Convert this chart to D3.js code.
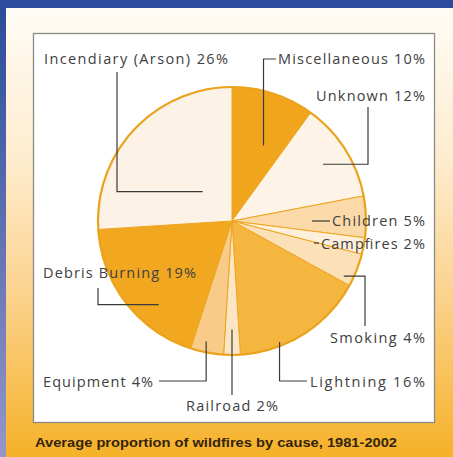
<!DOCTYPE html>
<html><head><meta charset="utf-8">
<script src="https://cdn.jsdelivr.net/npm/d3@7"></script>
<style>html,body{margin:0;padding:0;background:#fff;}svg{display:block;}</style>
</head><body>
<script>
// ---- data ----
const categories = ["Miscellaneous","Unknown","Children","Campfires","Smoking","Lightning","Railroad","Equipment","Debris Burning","Incendiary (Arson)"];
const values = [10,12,5,2,4,16,2,4,19,26];
const caption = "Average proportion of wildfires by cause, 1981-2002";

// ---- styles ----
const sliceColors = ["#f0a51d","#fdf4e7","#fbd9a8","#fdefd9","#fce0b8","#f5b640","#fce5c4","#f8cb88","#f1a71f","#fcf3e6"];

// ---- label layout (text position, anchor inside slice as fraction of slice angle t and radius rf, elbow path) ----
const labelLayout = [
  {x:278, y:64,  w:147, anchor:"start", t:0.63, rf:0.61, path:[{y:59},{x:276}]},
  {x:316, y:101, w:109, anchor:"start", t:0.51, rf:0.80, path:[{x:368},{y:107}]},
  {x:332, y:226, w:93,  anchor:"start", dash:[312,330,221]},
  {x:321, y:249, w:104, anchor:"start", dash:[314,319,243]},
  {x:330, y:343, w:95,  anchor:"start", t:0.82, rf:0.93, path:[{x:365},{y:326}]},
  {x:310, y:387, w:115, anchor:"start", t:0.69, rf:0.97, path:[{y:381},{x:307}]},
  {x:232, y:411, w:92,  anchor:"middle", t:0.5, rf:0.81, path:[{y:395}]},
  {x:43,  y:387, w:110, anchor:"start", t:0.59, rf:0.92, path:[{y:381},{x:159}]},
  {x:43,  y:278, w:153, anchor:"start", t:0.34, rf:0.83, path:[{x:98},{y:288}]},
  {x:44,  y:64,  w:184, anchor:"start", t:0.52, rf:0.31, path:[{x:117},{y:72}]}
];

const W = 453, H = 457;
const cx = 232, cy = 221, R = 134;

const svg = d3.select("body").append("svg").attr("width", W).attr("height", H);
const defs = svg.append("defs");

const bg = defs.append("linearGradient").attr("id","bg").attr("x1",0).attr("y1",0).attr("x2",0).attr("y2",1);
bg.append("stop").attr("offset","0").attr("stop-color","#fffdf8");
bg.append("stop").attr("offset","0.35").attr("stop-color","#feecce");
bg.append("stop").attr("offset","0.65").attr("stop-color","#fbd28c");
bg.append("stop").attr("offset","1").attr("stop-color","#f6b128");

const bl = defs.append("linearGradient").attr("id","bl").attr("x1",0).attr("y1",0).attr("x2",0).attr("y2",1);
bl.append("stop").attr("offset","0").attr("stop-color","#2b4c9c");
bl.append("stop").attr("offset","1").attr("stop-color","#9596ca");

// background panels
svg.append("rect").attr("x",0).attr("y",0).attr("width",W).attr("height",H).attr("fill","url(#bg)");
svg.append("rect").attr("x",0).attr("y",0).attr("width",W).attr("height",8).attr("fill","#2b4c9c");
svg.append("rect").attr("x",0).attr("y",8).attr("width",6).attr("height",H-8).attr("fill","url(#bl)");

// white inner box
svg.append("rect").attr("x",33.5).attr("y",33.5).attr("width",401).attr("height",389)
  .attr("fill","#ffffff").attr("stroke","#8c8a86").attr("stroke-width",1.3);

// pie
const pie = d3.pie().sort(null).value(d => d)(values);
const arc = d3.arc().innerRadius(0).outerRadius(R);
const g = svg.append("g").attr("transform",`translate(${cx},${cy})`);
g.selectAll("path.slice").data(pie).join("path")
  .attr("class","slice")
  .attr("d", arc)
  .attr("fill", (d,i) => sliceColors[i])
  .attr("stroke", "#eea623")
  .attr("stroke-width", 1)
  .attr("stroke-linejoin","round");
g.append("circle").attr("r",R).attr("fill","none").attr("stroke","#eba21d").attr("stroke-width",2.2);

// leader lines
const leaders = svg.append("g").attr("fill","none").attr("stroke","#3a3a3a").attr("stroke-width",1.2);
pie.forEach((d,i) => {
  const L = labelLayout[i];
  if (L.dash) {
    leaders.append("line").attr("x1",L.dash[0]).attr("x2",L.dash[1]).attr("y1",L.dash[2]).attr("y2",L.dash[2]);
    return;
  }
  const a = d.startAngle + (d.endAngle - d.startAngle) * L.t;
  const p = d3.pointRadial(a, R * L.rf);
  let x = cx + p[0], y = cy + p[1];
  const pts = [[x,y]];
  L.path.forEach(s => { if (s.x !== undefined) x = s.x; if (s.y !== undefined) y = s.y; pts.push([x,y]); });
  leaders.append("path").attr("d", d3.line()(pts));
});

// labels
svg.append("g").selectAll("text").data(pie).join("text")
  .attr("x",(d,i)=>labelLayout[i].x)
  .attr("y",(d,i)=>labelLayout[i].y)
  .attr("text-anchor",(d,i)=>labelLayout[i].anchor)
  .attr("textLength",(d,i)=>labelLayout[i].w)
  .attr("lengthAdjust","spacing")
  .attr("font-family","'Open Sans', 'DejaVu Sans', sans-serif")
  .attr("font-size",14.5)
  .attr("fill","#404040")
  .text((d,i)=>`${categories[i]} ${values[i]}%`);

// caption
svg.append("text").attr("x",35).attr("y",447)
  .attr("font-family","'Liberation Sans', Arial, sans-serif")
  .attr("font-weight","bold").attr("font-size",12)
  .attr("textLength",362).attr("lengthAdjust","spacingAndGlyphs")
  .attr("fill","#33240c")
  .text(caption);
</script>
</body></html>
